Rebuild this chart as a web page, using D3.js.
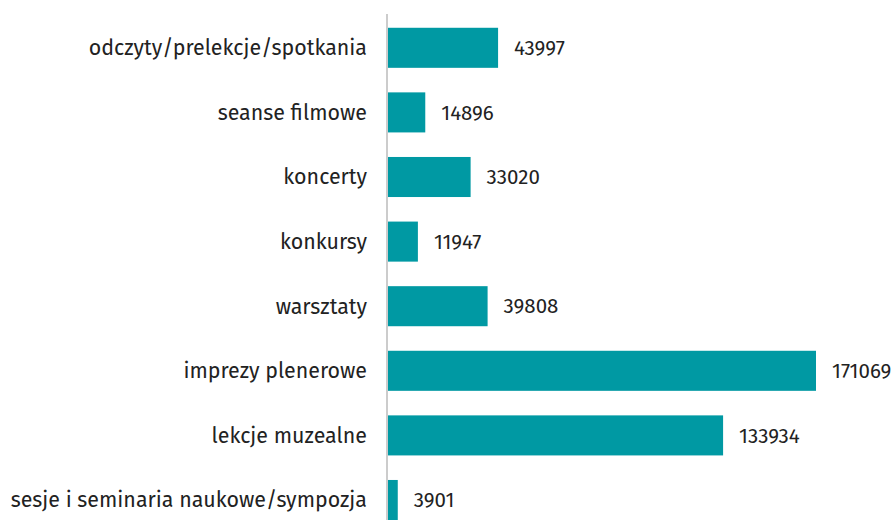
<!DOCTYPE html>
<html>
<head>
<meta charset="utf-8">
<script src="https://cdn.jsdelivr.net/npm/d3@7"></script>
<style>
  body { margin: 0; background: #fff; }
  svg { display: block; }
</style>
</head>
<body>
<div id="chart"></div>
<script>
var categories = [
  "odczyty/prelekcje/spotkania",
  "seanse filmowe",
  "koncerty",
  "konkursy",
  "warsztaty",
  "imprezy plenerowe",
  "lekcje muzealne",
  "sesje i seminaria naukowe/sympozja"
];
var values = [43997, 14896, 33020, 11947, 39808, 171069, 133934, 3901];

function createChart() {
  var width = 896, height = 520;
  var x0 = 388;

  var svg = d3.select("#chart").append("svg")
    .attr("width", width)
    .attr("height", height);

  var x = d3.scaleLinear()
    .domain([0, d3.max(values)])
    .range([x0, 816]);

  var y = d3.scaleBand()
    .domain(categories)
    .range([15.5, 15.5 + 64.6 * categories.length])
    .paddingInner(0.38)
    .paddingOuter(0.19);

  var data = categories.map((c, i) => ({ key: c, value: values[i] }));

  svg.append("g")
    .selectAll("rect")
    .data(data)
    .enter().append("rect")
    .attr("x", x(0))
    .attr("y", d => y(d.key))
    .attr("width", d => x(d.value) - x(0))
    .attr("height", y.bandwidth())
    .attr("fill", "#0099a3");

  // axis line
  svg.append("line")
    .attr("x1", x0 - 1).attr("x2", x0 - 1)
    .attr("y1", 14).attr("y2", height)
    .attr("stroke", "#cccccc")
    .attr("stroke-width", 2);

  svg.append("g")
    .attr("font-family", "'Fira Sans', 'Open Sans', sans-serif")
    .attr("font-size", 21.4)
    .attr("fill", "#222")
    .attr("text-anchor", "end")
    .selectAll("text")
    .data(data)
    .enter().append("text")
    .attr("x", 367)
    .attr("y", d => y(d.key) + y.bandwidth() / 2)
    .attr("dy", "0.35em")
    .text(d => d.key);

  svg.append("g")
    .attr("font-family", "'Fira Sans', 'Open Sans', sans-serif")
    .attr("font-size", 20.5)
    .attr("fill", "#222")
    .selectAll("text")
    .data(data)
    .enter().append("text")
    .attr("x", d => x(d.value) + 16)
    .attr("y", d => y(d.key) + y.bandwidth() / 2)
    .attr("dy", "0.35em")
    .text(d => d.value);
}

createChart();
</script>
</body>
</html>
